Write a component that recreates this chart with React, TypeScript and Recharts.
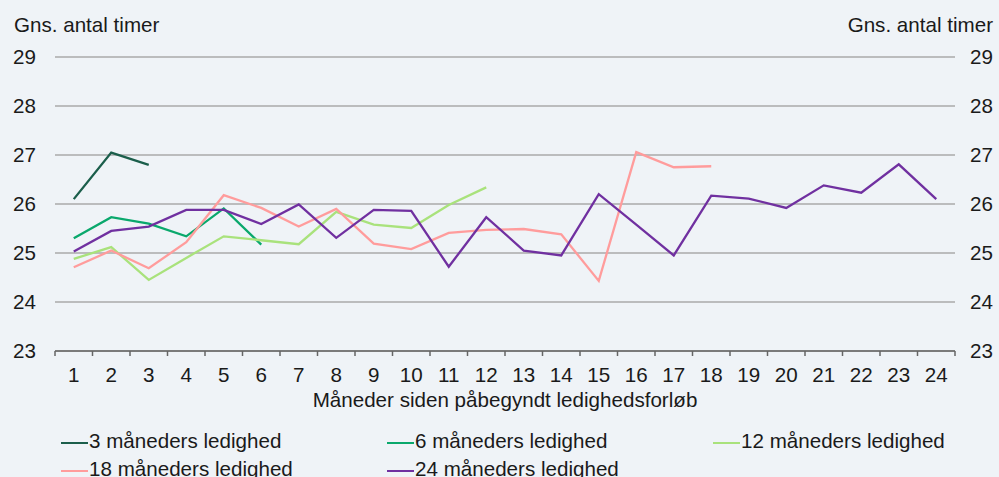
import React from 'react';
import { LineChart, Line, XAxis, YAxis, CartesianGrid } from 'recharts';

const months = [1, 2, 3, 4, 5, 6, 7, 8, 9, 10, 11, 12, 13, 14, 15, 16, 17, 18, 19, 20, 21, 22, 23, 24];
const yTicks = [23, 24, 25, 26, 27, 28, 29];

const m3 = [26.1, 27.05, 26.8];
const m6 = [25.3, 25.73, 25.6, 25.34, 25.91, 25.17];
const m12 = [24.88, 25.12, 24.45, 24.9, 25.34, 25.26, 25.18, 25.84, 25.58, 25.51, 25.98, 26.34];
const m18 = [24.71, 25.05, 24.69, 25.22, 26.18, 25.92, 25.54, 25.9, 25.19, 25.08, 25.41, 25.47, 25.49, 25.38, 24.43, 27.06, 26.75, 26.77];
const m24 = [25.03, 25.45, 25.54, 25.88, 25.88, 25.59, 25.99, 25.31, 25.88, 25.86, 24.72, 25.73, 25.05, 24.95, 26.2, 25.58, 24.95, 26.17, 26.11, 25.92, 26.38, 26.23, 26.81, 26.1];

const seriesNames = ['3 måneders ledighed', '6 måneders ledighed', '12 måneders ledighed', '18 måneders ledighed', '24 måneders ledighed'];
const seriesKeys = ['s3', 's6', 's12', 's18', 's24'];
const seriesColors = ['#1b5e4b', '#0aa86c', '#a9e27c', '#ff9c9c', '#7030a0'];

const yTitle = 'Gns. antal timer';
const xTitle = 'Måneder siden påbegyndt ledighedsforløb';

const allSeries = [m3, m6, m12, m18, m24];

const data = months.map((m, i) => {
  const row: Record<string, number | null> = { m };
  seriesKeys.forEach((k, j) => {
    const v = allSeries[j][i];
    row[k] = v === undefined ? null : v;
  });
  return row;
});

const xTicks: number[] = [];
months.forEach((m) => {
  xTicks.push(m - 0.5);
  xTicks.push(m);
});
xTicks.push(months[months.length - 1] + 0.5);

const FONT = '"Liberation Sans", Arial, sans-serif';
const FS = 20.6;
const TEXT = '#1a1a1a';
const BG = '#eff3f7';
const GRID = '#aaaaaa';
const AXIS = '#666666';

const XTick = (props: any) => {
  const { x, y, payload } = props;
  const v = payload.value;
  if (Number.isInteger(v)) {
    return (
      <text x={x} y={y + 31} textAnchor="middle" fontSize={FS} fill={TEXT} fontFamily={FONT}>
        {v}
      </text>
    );
  }
  return <line x1={x} x2={x} y1={y} y2={y + 5} stroke={AXIS} strokeWidth={1.5} />;
};

const LeftTick = (props: any) => {
  const { x, y, payload } = props;
  return (
    <text x={x - 19} y={y + 7} textAnchor="end" fontSize={FS} fill={TEXT} fontFamily={FONT}>
      {payload.value}
    </text>
  );
};

const RightTick = (props: any) => {
  const { x, y, payload } = props;
  return (
    <text x={x + 38} y={y + 7} textAnchor="end" fontSize={FS} fill={TEXT} fontFamily={FONT}>
      {payload.value}
    </text>
  );
};

const legendCols = [61, 387, 713];

export default function App() {
  return (
    <div
      style={{
        position: 'absolute',
        left: 0,
        top: 0,
        width: 999,
        height: 477,
        background: BG,
        overflow: 'hidden',
        fontFamily: FONT,
        color: TEXT,
      }}
    >
      <LineChart
        width={999}
        height={477}
        data={data}
        margin={{ top: 57, right: 0, left: 0, bottom: 76 }}
      >
        <CartesianGrid vertical={false} stroke={GRID} strokeWidth={1.5} />
        <XAxis
          dataKey="m"
          type="number"
          domain={[0.5, 24.5]}
          ticks={xTicks}
          interval={0}
          tick={<XTick />}
          tickLine={false}
          tickSize={0}
          tickMargin={0}
          axisLine={{ stroke: AXIS, strokeWidth: 1.5 }}
          height={50}
        />
        <YAxis
          domain={[23, 29]}
          ticks={yTicks}
          width={55}
          axisLine={false}
          tickLine={false}
          tickSize={0}
          tickMargin={0}
          tick={<LeftTick />}
          interval={0}
        />
        <YAxis
          yAxisId="r"
          orientation="right"
          domain={[23, 29]}
          allowDataOverflow={true}
          ticks={yTicks}
          width={44}
          axisLine={false}
          tickLine={false}
          tickSize={0}
          tickMargin={0}
          tick={<RightTick />}
          interval={0}
        />
        {seriesKeys.map((k, i) => (
          <Line
            key={k}
            dataKey={k}
            type="linear"
            stroke={seriesColors[i]}
            strokeWidth={2.3}
            dot={false}
            activeDot={false}
            isAnimationActive={false}
            connectNulls={false}
          />
        ))}
      </LineChart>
      <div style={{ position: 'absolute', left: 14, top: 15, fontSize: FS, lineHeight: '20px', whiteSpace: 'nowrap' }}>
        {yTitle}
      </div>
      <div style={{ position: 'absolute', right: 6, top: 15, fontSize: FS, lineHeight: '20px', whiteSpace: 'nowrap' }}>
        {yTitle}
      </div>
      <div
        style={{
          position: 'absolute',
          left: 55,
          width: 900,
          top: 390,
          fontSize: FS,
          lineHeight: '20px',
          textAlign: 'center',
          whiteSpace: 'nowrap',
        }}
      >
        {xTitle}
      </div>
      {seriesNames.map((name, i) => {
        const row = Math.floor(i / 3);
        const col = i % 3;
        return (
          <div
            key={name}
            style={{
              position: 'absolute',
              left: legendCols[col],
              top: 431 + row * 28,
              height: 20,
              display: 'flex',
              alignItems: 'center',
              fontSize: FS,
              lineHeight: '20px',
              whiteSpace: 'nowrap',
            }}
          >
            <span
              style={{
                display: 'inline-block',
                width: 27,
                height: 2.5,
                background: seriesColors[i],
                marginRight: 1,
                marginTop: 4,
              }}
            />
            <span>{name}</span>
          </div>
        );
      })}
    </div>
  );
}
